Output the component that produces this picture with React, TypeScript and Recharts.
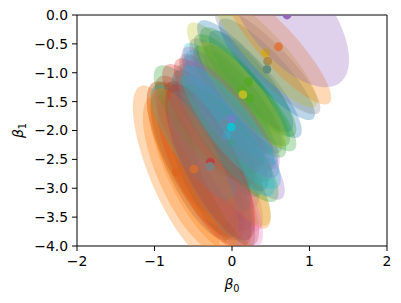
import React from 'react'
import { Scatter, ScatterChart, XAxis, YAxis } from 'recharts'

document.body.style.margin = '0'

const TAB10 = ['#1f77b4', '#ff7f0e', '#2ca02c', '#d62728', '#9467bd', '#8c564b', '#e377c2', '#7f7f7f', '#bcbd22', '#17becf']

// posterior mean of (β0, β1) per group, in drawing order
const meanB0 = [-0.72, -0.4, -0.3, -0.6, -0.2, -0.5, -0.15, -0.35, -0.3, -0.2, -0.6, -0.45, -0.35, -0.55, -0.25, -0.5, 0.0, -0.05, -0.05, -0.3, -0.5, -0.43, -0.13, 0.02, 0.17, -0.05, 0.04, -0.15, -0.2, -0.3, 0.1, 0.05, -0.05, -0.2, 0.0, 0.1, 0.3, -0.1, 0.21, 0.23, -0.02, -0.07, 0.13, 0.14, -0.49, -0.28, -0.285, -0.1, -0.01, -0.01, 0.45, 0.46, 0.44, 0.6, 0.71]
const meanB1 = [-2.72, -2.6, -2.45, -2.75, -2.8, -2.6, -2.6, -2.35, -2.9, -2.3, -2.3, -2.5, -2.7, -2.4, -2.9, -2.1, -2.7, -2.6, -2.95, -2.3, -2.2, -1.85, -1.65, -1.1, -1.06, -1.45, -1.65, -2.0, -1.75, -1.9, -2.2, -1.4, -1.7, -2.1, -1.6, -1.5, -1.2, -1.5, -1.16, -1.44, -2.22, -2.09, -1.3, -1.38, -2.67, -2.55, -2.62, -1.87, -1.8, -1.94, -0.94, -0.8, -0.65, -0.55, 0.0]
// half extent of the credible ellipse along each axis, and the correlation
const spreadB0 = [0.56, 0.58, 0.58, 0.55, 0.55, 0.55, 0.55, 0.55, 0.55, 0.55, 0.5, 0.6, 0.6, 0.55, 0.55, 0.5, 0.5, 0.55, 0.45, 0.55, 0.55, 0.58, 0.55, 0.6, 0.62, 0.58, 0.58, 0.62, 0.55, 0.6, 0.58, 0.6, 0.6, 0.6, 0.6, 0.6, 0.6, 0.55, 0.62, 0.6, 0.62, 0.62, 0.62, 0.57, 0.58, 0.58, 0.55, 0.62, 0.62, 0.64, 0.62, 0.68, 0.66, 0.68, 0.8]
const spreadB1 = [1.5, 1.3, 1.3, 1.35, 1.2, 1.3, 1.15, 1.2, 1.2, 1.05, 1.15, 1.35, 1.35, 1.25, 1.2, 1.05, 0.95, 1.1, 1.05, 1.1, 1.0, 0.98, 0.98, 0.97, 0.97, 0.97, 1.02, 1.05, 1.0, 1.05, 1.0, 1.0, 1.0, 1.05, 1.0, 0.97, 0.93, 0.95, 0.95, 0.92, 1.02, 1.05, 0.97, 0.92, 1.4, 1.35, 1.3, 1.02, 1.02, 1.07, 0.88, 0.92, 0.95, 1.0, 1.25]
const corrB = [-0.75, -0.74, -0.76, -0.72, -0.78, -0.74, -0.8, -0.76, -0.76, -0.8, -0.72, -0.72, -0.72, -0.72, -0.75, -0.75, -0.8, -0.82, -0.8, -0.78, -0.8, -0.8, -0.84, -0.86, -0.86, -0.85, -0.84, -0.84, -0.82, -0.82, -0.84, -0.85, -0.84, -0.82, -0.85, -0.85, -0.86, -0.84, -0.86, -0.86, -0.84, -0.84, -0.86, -0.86, -0.74, -0.76, -0.76, -0.84, -0.84, -0.84, -0.88, -0.88, -0.88, -0.88, -0.62]
const colorIdx = [1, 3, 5, 1, 3, 5, 6, 3, 1, 4, 5, 5, 3, 1, 5, 3, 8, 1, 6, 7, 9, 2, 5, 8, 0, 9, 6, 0, 3, 3, 4, 7, 7, 7, 9, 2, 0, 4, 2, 2, 2, 9, 2, 8, 1, 3, 7, 7, 4, 9, 0, 7, 8, 1, 4]
const showMean = [1, 0, 0, 0, 0, 0, 0, 0, 0, 0, 0, 0, 0, 0, 0, 0, 0, 0, 0, 0, 0, 0, 0, 0, 0, 0, 0, 0, 0, 0, 0, 0, 0, 0, 0, 0, 0, 0, 1, 1, 1, 1, 1, 1, 1, 1, 1, 1, 1, 1, 1, 1, 1, 1, 1]

const X_TICKS = [-2, -1, 0, 1, 2]
const Y_TICKS = [0, -0.5, -1, -1.5, -2, -2.5, -3, -3.5, -4]

const STEPS = 96
const FONT = 'DejaVu Sans'

function ellipse(i: number) {
  const r = corrB[i]
  const s = Math.sqrt(1 - r * r)
  const pts = []
  for (let k = 0; k < STEPS; k++) {
    const t = (2 * Math.PI * k) / STEPS
    pts.push({
      x: meanB0[i] + spreadB0[i] * Math.cos(t),
      y: meanB1[i] + spreadB1[i] * (r * Math.cos(t) + s * Math.sin(t)),
    })
  }
  return pts
}

const fillLine = (color: string) => (props: any) => {
  const d = props.points.map((p: any, j: number) => `${j ? 'L' : 'M'}${p.x},${p.y}`).join('') + 'Z'
  return <path d={d} fill={color} fillOpacity={0.3} stroke="none" />
}

const minus = (v: number, digits: number) => v.toFixed(digits).replace('-', '\u2212')

function XTitle({ viewBox }: any) {
  const cx = viewBox.x + viewBox.width / 2
  return (
    <text x={cx} y={289} textAnchor="middle" fontFamily={FONT} fontSize={13.9} fill="#000">
      <tspan fontStyle="italic">β</tspan>
      <tspan fontSize={9.7} dy={3}>0</tspan>
    </text>
  )
}

function YTitle({ viewBox }: any) {
  const cy = viewBox.y + viewBox.height / 2
  return (
    <text x={23} y={cy} transform={`rotate(-90 23 ${cy})`} textAnchor="middle" fontFamily={FONT} fontSize={13.9} fill="#000">
      <tspan fontStyle="italic">β</tspan>
      <tspan fontSize={9.7} dy={3}>1</tspan>
    </text>
  )
}

export default function App() {
  const series: React.ReactNode[] = []
  meanB0.forEach((_, i) => {
    const color = TAB10[colorIdx[i]]
    series.push(
      <Scatter
        key={`e${i}`}
        data={ellipse(i)}
        line={fillLine(color)}
        lineType="joint"
        shape={() => <g />}
        isAnimationActive={false}
      />
    )
    if (showMean[i]) {
      series.push(
        <Scatter
          key={`m${i}`}
          data={[{ x: meanB0[i], y: meanB1[i] }]}
          shape={(p: any) => <circle cx={p.cx} cy={p.cy} r={4.4} fill={color} />}
          isAnimationActive={false}
        />
      )
    }
  })

  const tick = { fill: '#000', fontSize: 13.9, fontFamily: FONT }

  return (
    <ScatterChart width={401} height={303} margin={{ top: 14, right: 13, bottom: 0, left: 0 }}>
      {series}
      <XAxis
        type="number"
        dataKey="x"
        domain={[-2, 2]}
        ticks={X_TICKS}
        allowDataOverflow
        height={57}
        tick={tick}
        tickFormatter={(v: number) => minus(v, 0)}
        tickSize={5}
        tickMargin={5}
        stroke="#000"
        label={<XTitle />}
      />
      <YAxis
        type="number"
        dataKey="y"
        domain={[-4, 0]}
        ticks={Y_TICKS}
        allowDataOverflow
        width={77}
        tick={tick}
        tickFormatter={(v: number) => minus(v, 1)}
        tickSize={5}
        tickMargin={4}
        stroke="#000"
        label={<YTitle />}
      />
      <XAxis xAxisId="top" orientation="top" type="number" domain={[-2, 2]} height={1} tick={false} tickLine={false} stroke="#000" />
      <YAxis yAxisId="right" orientation="right" type="number" domain={[-4, 0]} width={1} tick={false} tickLine={false} stroke="#000" />
    </ScatterChart>
  )
}
